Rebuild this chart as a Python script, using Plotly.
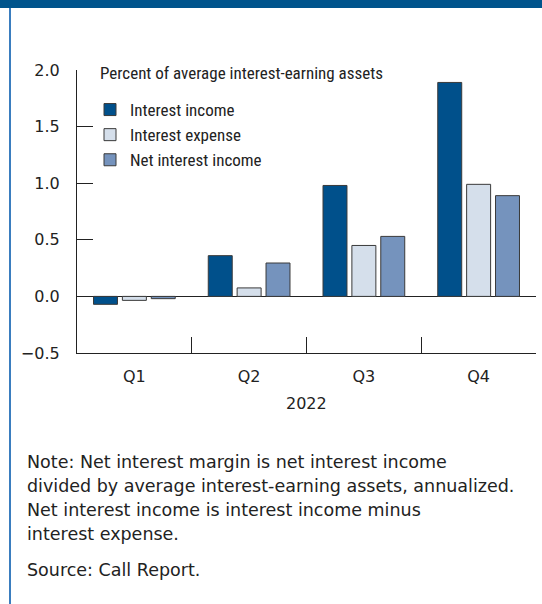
import plotly.graph_objects as go

# Quarterly values, percent of average interest-earning assets
quarters = ["Q1", "Q2", "Q3", "Q4"]
interest_income = [-0.07, 0.36, 0.98, 1.89]
interest_expense = [-0.035, 0.075, 0.45, 0.99]
net_interest_income = [-0.02, 0.295, 0.53, 0.89]

y_ticks = [-0.5, 0.0, 0.5, 1.0, 1.5, 2.0]
year_label = "2022"
units_label = "Percent of average interest-earning assets"
note_lines = [
    "Note: Net interest margin is net interest income",
    "divided by average interest-earning assets, annualized.",
    "Net interest income is interest income minus",
    "interest expense.",
]
source_line = "Source: Call Report."

W, H = 542, 604
L, R, T, B = 77, 6, 70, 251
PW, PH = W - L - R, H - T - B

def px_x(x):
    return (x - L) / PW

def px_y(y):
    return (H - B - y) / PH

NARROW = "Liberation Sans Narrow, Arial Narrow, Roboto Condensed, sans-serif"
BODY = "DejaVu Sans, Verdana, sans-serif"

series = [
    ("Interest income", interest_income, "#00508b"),
    ("Interest expense", interest_expense, "#d5dfeb"),
    ("Net interest income", net_interest_income, "#7593bd"),
]

fig = go.Figure()
for i, (name, vals, color) in enumerate(series):
    fig.add_trace(go.Bar(
        name=name, x=quarters, y=vals,
        marker=dict(color=color, line=dict(color="#3a3a3a", width=1)),
        legendgroup=f"g{i}",
    ))

fig.update_layout(
    width=W, height=H,
    margin=dict(l=L, r=R, t=T, b=B, pad=0),
    paper_bgcolor="white", plot_bgcolor="white",
    barmode="group", bargap=0.245, bargroupgap=0.17,
    font=dict(family=BODY, size=16, color="#222"),
    showlegend=True,
    legend=dict(
        x=px_x(90), y=px_y(92), xanchor="left", yanchor="top",
        font=dict(family=NARROW, size=17, color="#222"),
        tracegroupgap=3, traceorder="normal",
        bgcolor="rgba(0,0,0,0)",
    ),
    xaxis=dict(
        showline=True, linecolor="#222", linewidth=1.2,
        ticks="inside", ticklen=16, tickcolor="#222", tickwidth=1.2,
        tickson="boundaries", showgrid=False,
        tickfont=dict(family=BODY, size=16, color="#222"),
        ticklabelstandoff=9,
    ),
    yaxis=dict(
        range=[-0.5, 2.0], tickvals=y_ticks,
        tickformat=".1f",
        showline=True, linecolor="#222", linewidth=1.2,
        ticks="inside", ticklen=16, tickcolor="#222", tickwidth=1.2,
        showgrid=False,
        zeroline=True, zerolinecolor="#222", zerolinewidth=1.2,
        tickfont=dict(family=BODY, size=16, color="#222"),
        ticklabelstandoff=13,
    ),
    shapes=[
        dict(type="rect", xref="paper", yref="paper",
             x0=px_x(0), x1=px_x(W), y0=px_y(0), y1=px_y(8),
             fillcolor="#00548c", line=dict(width=0)),
        dict(type="line", xref="paper", yref="paper",
             x0=px_x(10), x1=px_x(10), y0=px_y(8), y1=px_y(H),
             line=dict(color="#3a7dbf", width=2)),
    ],
)

annotations = [
    dict(text=units_label, x=px_x(98), y=px_y(73), xanchor="left", yanchor="middle",
         font=dict(family=NARROW, size=17, color="#222")),
    dict(text=year_label, x=px_x(306), y=px_y(403), xanchor="center", yanchor="middle",
         font=dict(family=BODY, size=16, color="#222")),
]
for k, line in enumerate(note_lines):
    annotations.append(dict(text=line, x=px_x(25), y=px_y(462 + 24 * k),
                            xanchor="left", yanchor="middle",
                            font=dict(family=BODY, size=17.5, color="#222")))
annotations.append(dict(text=source_line, x=px_x(25), y=px_y(570),
                        xanchor="left", yanchor="middle",
                        font=dict(family=BODY, size=17.5, color="#222")))
for a in annotations:
    a.update(xref="paper", yref="paper", showarrow=False)
fig.update_layout(annotations=annotations)

fig.write_html("out.html")
